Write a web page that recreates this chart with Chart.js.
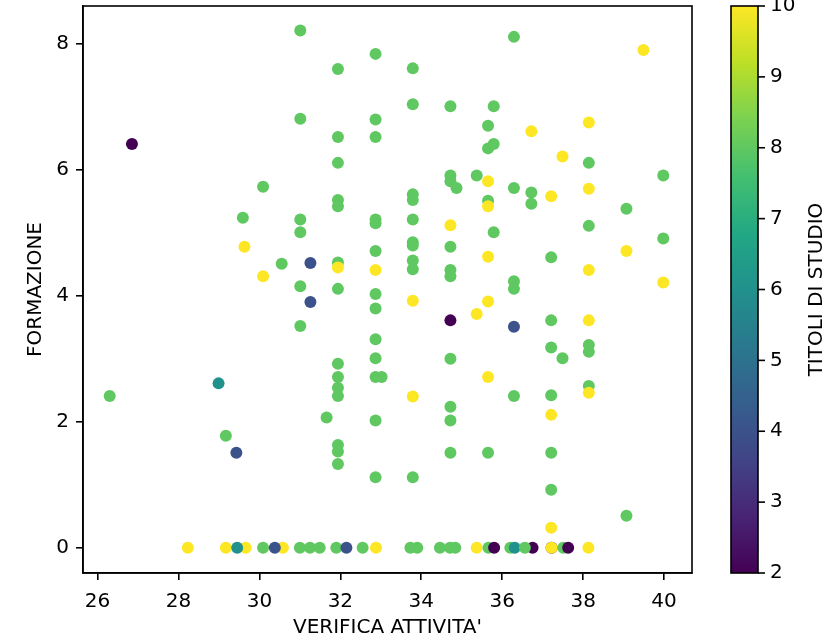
<!DOCTYPE html>
<html>
<head>
<meta charset="utf-8">
<script src="https://cdn.jsdelivr.net/npm/chart.js@4"></script>
<style>
  html, body { margin: 0; padding: 0; background: #fff; }
  #wrap { width: 827px; height: 639px; }
</style>
</head>
<body>
<div id="wrap"><canvas id="scatter" width="827" height="639"></canvas></div>
<script>
// values
const verifica = [
  26.30, 26.85, 28.99, 29.17, 29.43, 29.59, 29.63, 30.09, 30.09, 30.55,
  31.01, 31.01, 31.01, 31.01, 31.01, 31.01, 31.26, 31.26, 31.66,
  31.94, 31.94, 31.94, 31.94, 31.94, 31.94, 31.94, 31.94, 31.94, 31.94, 31.94, 31.94, 31.94, 31.94, 31.94,
  32.87, 32.87, 32.87, 32.87, 32.87, 32.87, 32.87, 32.87, 32.87, 32.87, 32.87, 32.87, 33.02, 32.87, 32.87,
  33.79, 33.79, 33.79, 33.79, 33.79, 33.79, 33.79, 33.79, 33.79, 33.79, 33.79, 33.79,
  34.72, 34.72, 34.72, 34.87, 34.72, 34.72, 34.72, 34.72, 34.72, 34.72, 34.72, 34.72, 34.72,
  35.37, 35.37, 35.65, 35.65, 35.79, 35.79, 35.65, 35.65, 35.65, 35.79, 35.65, 35.65, 35.65, 35.65,
  36.29, 36.29, 36.29, 36.29, 36.29, 36.29, 36.72, 36.72, 36.72,
  37.21, 37.21, 37.21, 37.21, 37.21, 37.21, 37.21, 37.21, 37.21, 37.49, 37.49,
  38.14, 38.14, 38.14, 38.14, 38.14, 38.14, 38.14, 38.14, 38.14, 38.14,
  39.07, 39.07, 39.07, 39.49, 39.98, 39.98, 39.98,
  // FORMAZIONE = 0
  28.23, 29.17, 29.66, 29.45, 30.09, 30.58, 30.38, 31.00, 31.25, 31.49, 31.90, 32.15, 32.55, 32.88,
  33.73, 33.90, 34.46, 34.71, 34.84, 35.37, 35.66, 35.80, 36.20, 36.31, 36.75, 36.56, 37.22, 37.22,
  37.51, 37.63, 38.13
];
const formazione = [
  2.41, 6.41, 2.61, 1.78, 1.51, 5.24, 4.78, 5.73, 4.31, 4.51,
  8.21, 6.81, 5.21, 5.01, 4.15, 3.52, 4.52, 3.90, 2.07,
  7.60, 6.52, 6.11, 5.52, 5.42, 4.53, 4.45, 4.11, 2.92, 2.71, 2.54, 2.41, 1.63, 1.53, 1.33,
  7.84, 6.80, 6.52, 5.21, 5.15, 4.71, 4.41, 4.03, 3.80, 3.31, 3.01, 2.71, 2.71, 2.02, 1.12,
  7.61, 7.04, 5.61, 5.52, 5.21, 4.85, 4.80, 4.56, 4.42, 3.92, 2.40, 1.12,
  7.01, 5.91, 5.82, 5.71, 5.12, 4.78, 4.41, 4.31, 3.61, 3.00, 2.24, 2.02, 1.51,
  5.91, 3.71, 6.70, 6.34, 6.41, 7.01, 5.82, 5.51, 5.42, 5.01, 4.62, 3.91, 2.71, 1.51,
  8.11, 5.71, 4.23, 4.11, 3.51, 2.41, 6.61, 5.64, 5.46,
  5.58, 4.61, 3.61, 3.18, 2.42, 2.11, 1.51, 0.92, 0.32, 6.21, 3.01,
  6.75, 6.11, 5.70, 5.11, 4.41, 3.61, 3.22, 3.11, 2.57, 2.46,
  5.38, 4.71, 0.51, 7.90, 5.91, 4.91, 4.21,
  0, 0, 0, 0, 0, 0, 0, 0, 0, 0, 0, 0, 0, 0,
  0, 0, 0, 0, 0, 0, 0, 0, 0, 0, 0, 0, 0, 0,
  0, 0, 0
];
const titoli = [
  8, 2, 6, 8, 4, 8, 10, 8, 10, 8,
  8, 8, 8, 8, 8, 8, 4, 4, 8,
  8, 8, 8, 8, 8, 8, 10, 8, 8, 8, 8, 8, 8, 8, 8,
  8, 8, 8, 8, 8, 8, 10, 8, 8, 8, 8, 8, 8, 8, 8,
  8, 8, 8, 8, 8, 8, 8, 8, 8, 10, 10, 8,
  8, 8, 8, 8, 10, 8, 8, 8, 2, 8, 8, 8, 8,
  8, 10, 8, 8, 8, 8, 10, 8, 10, 8, 10, 10, 10, 8,
  8, 8, 8, 8, 4, 8, 10, 8, 8,
  10, 8, 8, 8, 8, 10, 8, 8, 10, 10, 8,
  10, 8, 10, 8, 10, 10, 8, 8, 8, 10,
  8, 10, 8, 10, 8, 8, 10,
  10, 10, 10, 6, 8, 10, 4, 8, 8, 8, 8, 4, 8, 10,
  8, 8, 8, 8, 8, 10, 8, 2, 8, 6, 2, 8, 2, 10,
  8, 2, 10
];
const xTicks = [26, 28, 30, 32, 34, 36, 38, 40];
const yTicks = [0, 2, 4, 6, 8];
const cbTicks = [2, 3, 4, 5, 6, 7, 8, 9, 10];
const cbMin = 2, cbMax = 10;

// viridis stops
const viridis = ['#440154', '#482475', '#414487', '#355f8d', '#2a788e', '#21918c',
                 '#22a884', '#44bf70', '#7ad151', '#bddf26', '#fde725'];

function hexRgb(h) {
  return [parseInt(h.slice(1, 3), 16), parseInt(h.slice(3, 5), 16), parseInt(h.slice(5, 7), 16)];
}
function viridisColor(v) {
  let t = (v - cbMin) / (cbMax - cbMin);
  t = Math.max(0, Math.min(1, t)) * (viridis.length - 1);
  const i = Math.min(Math.floor(t), viridis.length - 2);
  const f = t - i;
  const a = hexRgb(viridis[i]), b = hexRgb(viridis[i + 1]);
  const c = a.map((x, k) => Math.round(x + (b[k] - x) * f));
  return 'rgb(' + c.join(',') + ')';
}

const points = verifica.map((x, i) => ({ x: x, y: formazione[i] }));
const colors = titoli.map(viridisColor);

const FONT = 'DejaVu Sans';
const FS = 20;
const TXT = '#000';

// box round the plot and the colour bar on the right
const extras = {
  id: 'extras',
  afterDraw(chart) {
    const c = chart.ctx;
    const a = chart.chartArea;
    c.save();
    c.strokeStyle = '#000';
    c.lineWidth = 1.6;
    c.strokeRect(a.left, a.top, a.right - a.left, a.bottom - a.top);

    const cbL = 731, cbW = 27;
    const top = a.top, bot = a.bottom;
    const g = c.createLinearGradient(0, bot, 0, top);
    viridis.forEach((col, i) => g.addColorStop(i / (viridis.length - 1), col));
    c.fillStyle = g;
    c.fillRect(cbL, top, cbW, bot - top);
    c.strokeRect(cbL, top, cbW, bot - top);

    c.fillStyle = TXT;
    c.font = FS + 'px "' + FONT + '"';
    c.textAlign = 'left';
    c.textBaseline = 'middle';
    cbTicks.forEach(v => {
      const y = top + (cbMax - v) / (cbMax - cbMin) * (bot - top);
      c.beginPath();
      c.moveTo(cbL + cbW, y);
      c.lineTo(cbL + cbW + 7, y);
      c.stroke();
      c.fillText(String(v), cbL + cbW + 12, y);
    });

    c.translate(817, (top + bot) / 2);
    c.rotate(-Math.PI / 2);
    c.textAlign = 'center';
    c.fillText('TITOLI DI STUDIO', 0, 0);
    c.restore();
  }
};

const ctx = document.getElementById('scatter').getContext('2d');
const chart = new Chart(ctx, {
  type: 'scatter',
  data: {
    datasets: [{
      data: points,
      pointBackgroundColor: colors,
      pointBorderWidth: 0,
      pointRadius: 6,
      pointHoverRadius: 6
    }]
  },
  options: {
    responsive: false,
    animation: false,
    layout: { padding: { top: 6, right: 135, left: 0, bottom: 0 } },
    plugins: { legend: { display: false }, tooltip: { enabled: false } },
    scales: {
      x: {
        type: 'linear',
        min: 25.64,
        max: 40.69,
        afterBuildTicks: s => { s.ticks = xTicks.map(v => ({ value: v })); },
        afterFit: s => { s.height = 66; s.paddingLeft = 0; s.paddingRight = 0; },
        grid: { display: true, drawOnChartArea: false, drawTicks: true, tickLength: 7, color: '#000', lineWidth: 1.6 },
        border: { display: true, color: '#000', width: 1.6 },
        ticks: { color: TXT, font: { family: FONT, size: FS }, padding: 10, maxRotation: 0 },
        title: { display: true, text: "VERIFICA ATTIVITA'", color: TXT, font: { family: FONT, size: FS, lineHeight: 1 }, padding: { top: 0, bottom: 1 } }
      },
      y: {
        type: 'linear',
        min: -0.40,
        max: 8.60,
        afterBuildTicks: s => { s.ticks = yTicks.map(v => ({ value: v })); },
        afterFit: s => { s.width = 83; s.paddingTop = 0; s.paddingBottom = 0; },
        grid: { display: true, drawOnChartArea: false, drawTicks: true, tickLength: 7, color: '#000', lineWidth: 1.6 },
        border: { display: true, color: '#000', width: 1.6 },
        ticks: { color: TXT, font: { family: FONT, size: FS }, padding: 7 },
        title: { display: true, text: 'FORMAZIONE', color: TXT, font: { family: FONT, size: FS }, padding: { top: 24, bottom: 0 } }
      }
    }
  },
  plugins: [extras]
});
</script>
</body>
</html>
